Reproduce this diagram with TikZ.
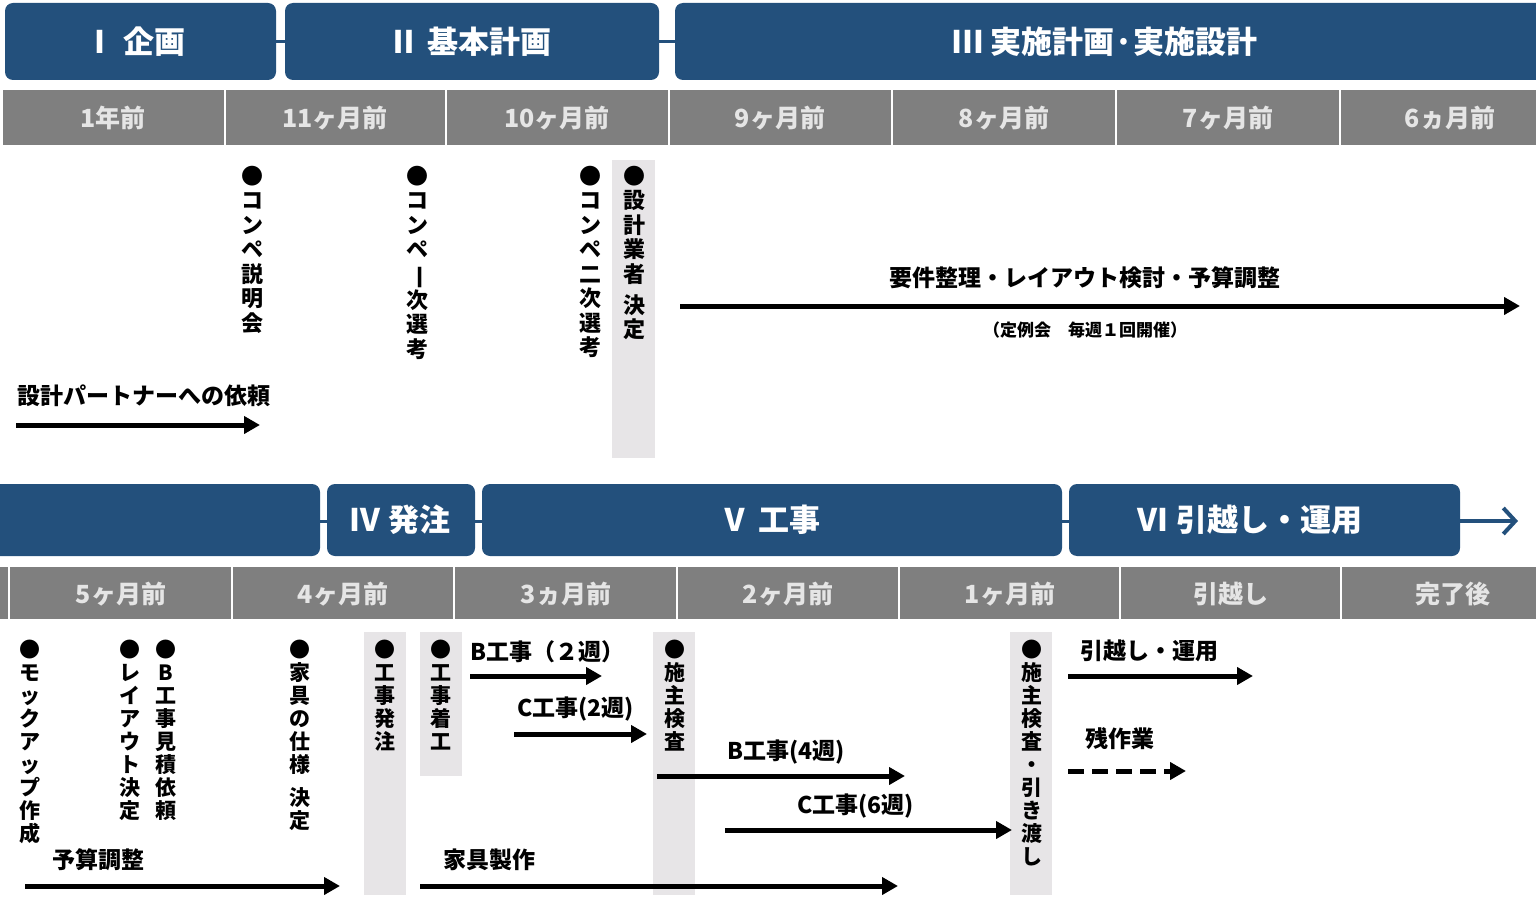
\documentclass[tikz,border=0pt]{standalone}
\usepackage{fontspec}
\setmainfont{Noto Sans CJK JP}
\usetikzlibrary{arrows.meta}
\definecolor{phase}{HTML}{23507C}
\definecolor{mon}{HTML}{7F7F7F}
\definecolor{band}{HTML}{E7E5E7}
\tikzset{
 ph/.style={fill=phase,rounded corners=8pt,draw=none},
 phtxt/.style={text=white,font=\fontsize{31}{31}\selectfont\bfseries},
 mcell/.style={fill=mon,draw=none},
 mtxt/.style={text=white!90!black,font=\fontsize{25}{25}\selectfont\bfseries},
 vt/.style={anchor=north,align=center,inner sep=0pt,font=\fontsize{22}{24.5}\selectfont\bfseries},
 vts/.style={anchor=north,align=center,inner sep=0pt,font=\fontsize{21}{23}\selectfont\bfseries},
 lbl/.style={font=\fontsize{23}{23}\selectfont\bfseries,inner sep=0pt},
 arr/.style={line width=5pt,-{Triangle[length=16pt,width=17pt]}},
 bandr/.style={fill=band,draw=none}
}
\newcommand\rot[1]{\rotatebox[origin=c]{-90}{#1}}
\begin{document}
\begin{tikzpicture}[x=1pt,y=-1pt]
\useasboundingbox (0,0) rectangle (1536,912);
% top phases
\draw[phase,line width=3pt] (270,42)--(290,42) (655,42)--(680,42);
\fill[ph] (5,3) rectangle (276,80);
\fill[ph] (285,3) rectangle (659,80);
\fill[ph] (675,3) rectangle (1550,80);
\node[phtxt] (p1) at (135,42) {Ⅰ 企画};
\node[phtxt] (p2) at (470,42) {Ⅱ 基本計画};
\node[phtxt] (p3) at (1105,42) {Ⅲ 実施計画·実施設計};
% top months
\fill[mcell] (3,90) rectangle (1536,145);
\foreach \x in {225,446,669,892,1116,1340}{\draw[white,line width=2pt] (\x,90)--(\x,145);}
\foreach \x/\t [count=\i] in {113/1年前,335/11ヶ月前,557/10ヶ月前,780/9ヶ月前,1004/8ヶ月前,1228/7ヶ月前,1450/6ヵ月前}{\node[mtxt] (m\i) at (\x,118) {\t};}
% top items
\fill[bandr] (612,160) rectangle (655,458);
\node[vt] (t1) at (252,166) {●\\コ\\ン\\ペ\\説\\明\\会};
\node[vt] (t2) at (417,166) {●\\コ\\ン\\ペ\\\rot{一}\\次\\選\\考};
\node[vt] (t3) at (590,166) {●\\コ\\ン\\ペ\\二\\次\\選\\考};
\node[vt] (t4) at (634,166) {●\\設\\計\\業\\者\\[-6pt]\phantom{x}\\[-12pt]決\\定};
\node[lbl] (l1) at (1085,278) {要件整理・レイアウト検討・予算調整};
\coordinate (a1s) at (680,306); \coordinate (a1e) at (1520,306);
\draw[arr] (a1s)--(a1e);
\node[lbl,font=\fontsize{17}{17}\selectfont\bfseries] (l2) at (1085,330) {（定例会　毎週１回開催）};
\node[lbl,anchor=west] (l3) at (17,396) {設計パートナーへの依頼};
\coordinate (a2s) at (16,425); \coordinate (a2e) at (260,425);
\draw[arr] (a2s)--(a2e);
% bottom phases
\draw[phase,line width=3pt] (315,521)--(332,521) (470,521)--(487,521) (1057,521)--(1074,521);
\fill[ph] (-20,484) rectangle (320,556);
\fill[ph] (327,484) rectangle (475,556);
\fill[ph] (482,484) rectangle (1062,556);
\fill[ph] (1069,484) rectangle (1460,556);
\coordinate (pa) at (1460,521); \coordinate (pb) at (1518,521);
\draw[phase,line width=4pt,-{Straight Barb[length=12pt,width=26pt]}] (pa)--(pb);
\node[phtxt] (p4) at (400,520) {Ⅳ 発注};
\node[phtxt] (p5) at (770,520) {Ⅴ 工事};
\node[phtxt] (p6) at (1250,520) {Ⅵ 引越し・運用};
% bottom months
\fill[mcell] (0,567) rectangle (1536,619);
\foreach \x in {9,232,454,677,899,1120,1341}{\draw[white,line width=2pt] (\x,567)--(\x,619);}
\foreach \x/\t [count=\i] in {121/5ヶ月前,343/4ヶ月前,566/3ヵ月前,788/2ヶ月前,1010/1ヶ月前,1231/引越し,1453/完了後}{\node[mtxt] (n\i) at (\x,594) {\t};}
% bands
\fill[bandr] (364,632) rectangle (406,895);
\fill[bandr] (420,632) rectangle (462,776);
\fill[bandr] (653,632) rectangle (695,895);
\fill[bandr] (1010,632) rectangle (1052,895);
\node[vts] (b1) at (30,640) {●\\モ\\ッ\\ク\\ア\\ッ\\プ\\作\\成};
\node[vts] (b2) at (130,640) {●\\レ\\イ\\ア\\ウ\\ト\\決\\定};
\node[vts] (b3) at (166,640) {●\\B\\工\\事\\見\\積\\依\\頼};
\node[vts] (b4) at (300,640) {●\\家\\具\\の\\仕\\様\\[10pt]決\\定};
\node[vts] (b5) at (385,640) {●\\工\\事\\発\\注};
\node[vts] (b6) at (441,640) {●\\工\\事\\着\\工};
\node[vts] (b7) at (675,640) {●\\施\\主\\検\\査};
\node[vts] (b8) at (1032,640) {●\\施\\主\\検\\査\\・\\引\\き\\渡\\し};
% bottom labels & arrows
\node[lbl,anchor=west] (c1) at (470,652) {B工事（２週）};
\coordinate (c1s) at (470,676); \coordinate (c1e) at (602,676); \draw[arr] (c1s)--(c1e);
\node[lbl,anchor=west] (c2) at (517,709) {C工事(2週)};
\coordinate (c2s) at (514,734); \coordinate (c2e) at (647,734); \draw[arr] (c2s)--(c2e);
\node[lbl,anchor=west] (c3) at (727,752) {B工事(4週)};
\coordinate (c3s) at (657,776); \coordinate (c3e) at (905,776); \draw[arr] (c3s)--(c3e);
\node[lbl,anchor=west] (c4) at (797,806) {C工事(6週)};
\coordinate (c4s) at (725,830); \coordinate (c4e) at (1012,830); \draw[arr] (c4s)--(c4e);
\node[lbl,anchor=west] (c5) at (52,860) {予算調整};
\coordinate (c5s) at (25,886); \coordinate (c5e) at (340,886); \draw[arr] (c5s)--(c5e);
\node[lbl,anchor=west] (c6) at (443,860) {家具製作};
\coordinate (c6s) at (420,886); \coordinate (c6e) at (898,886); \draw[arr] (c6s)--(c6e);
\node[lbl,anchor=west] (c7) at (1080,651) {引越し・運用};
\coordinate (c7s) at (1068,676); \coordinate (c7e) at (1253,676); \draw[arr] (c7s)--(c7e);
\node[lbl,anchor=west] (c8) at (1085,739) {残作業};
\coordinate (c8s) at (1068,771); \coordinate (c8e) at (1186,771);
\draw[arr,dash pattern=on 16pt off 8pt] (c8s)--(c8e);
\end{tikzpicture}
\end{document}
